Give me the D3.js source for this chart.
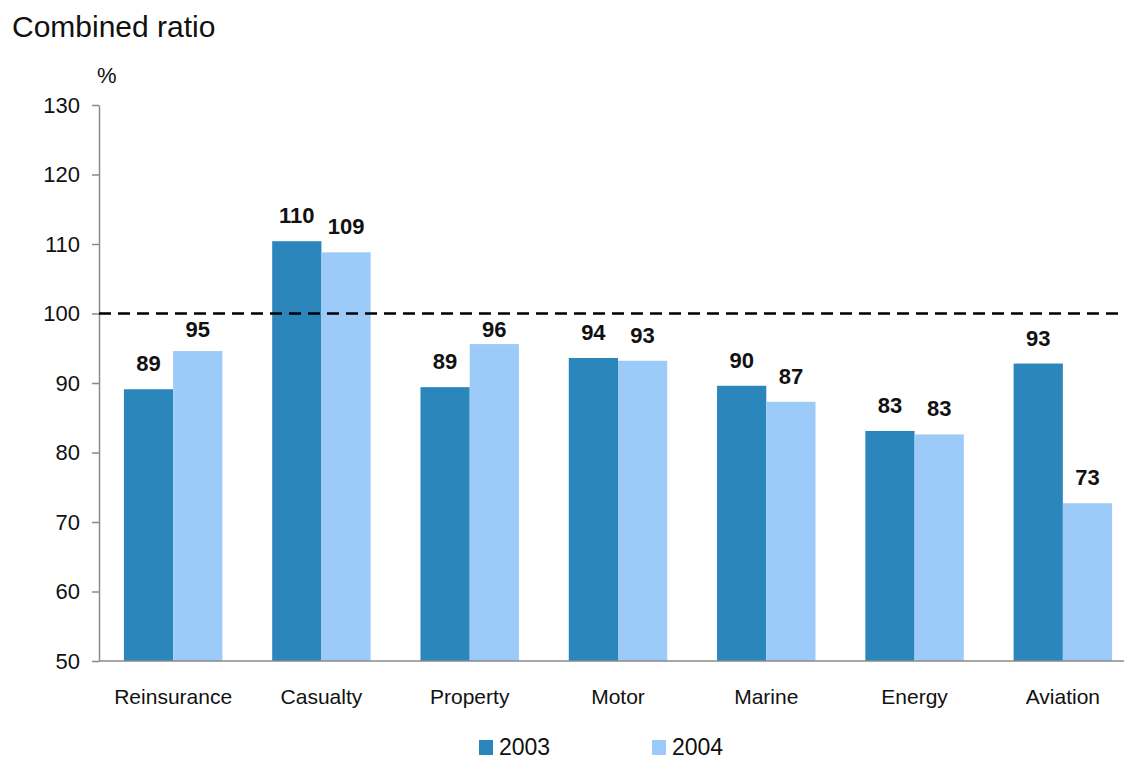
<!DOCTYPE html>
<html>
<head>
<meta charset="utf-8">
<script src="https://cdn.jsdelivr.net/npm/d3@7"></script>
<style>
  body { margin: 0; background: #fff; }
  svg { display: block; font-family: "Liberation Sans", Arial, sans-serif; }
</style>
</head>
<body>
<svg id="chart" width="1124" height="760"></svg>
<script>
// data
var categories = ["Reinsurance", "Casualty", "Property", "Motor", "Marine", "Energy", "Aviation"];
var years = ["2003", "2004"];
var values2003 = [89.1, 110.4, 89.4, 93.6, 89.6, 83.1, 92.8];
var values2004 = [94.6, 108.8, 95.6, 93.2, 87.3, 82.6, 72.7];
var yTicks = [50, 60, 70, 80, 90, 100, 110, 120, 130];
var reference = 100;

var colors = { "2003": "#2a86bb", "2004": "#9dcbf9" };

var svg = d3.select("#chart");

var x0 = d3.scaleBand()
	.domain(categories)
	.range([99, 1137])
	.paddingInner(0.336)
	.paddingOuter(0.168);

var x1 = d3.scaleBand()
	.domain(years)
	.range([0, x0.bandwidth()]);

var y = d3.scaleLinear()
	.domain([50, 130])
	.range([661, 105]);

// title
svg.append("text")
	.attr("x", 12)
	.attr("y", 37)
	.attr("font-size", 30)
	.attr("fill", "#111")
	.text("Combined ratio");

svg.append("text")
	.attr("x", 97)
	.attr("y", 83)
	.attr("font-size", 22)
	.attr("fill", "#111")
	.text("%");

// y axis
var yAxis = svg.append("g")
	.attr("transform", "translate(99,0)")
	.call(d3.axisLeft(y).tickValues(yTicks).tickSize(7).tickPadding(12).tickSizeOuter(0));
yAxis.selectAll("path, line").attr("stroke", "#8a8a8a").attr("stroke-width", 1.5);
yAxis.selectAll("text")
	.attr("font-size", 22)
	.attr("fill", "#111")
	.attr("font-family", "Liberation Sans, Arial, sans-serif");

// bars
var rows = categories.map(function (c, i) {
	return { category: c, values: [
		{ year: "2003", value: values2003[i] },
		{ year: "2004", value: values2004[i] }
	] };
});

var groups = svg.append("g").selectAll("g")
	.data(rows)
	.enter().append("g")
	.attr("transform", function (d) { return "translate(" + x0(d.category) + ",0)"; });

groups.selectAll("rect")
	.data(function (d) { return d.values; })
	.enter().append("rect")
	.attr("x", function (d) { return x1(d.year); })
	.attr("y", function (d) { return y(d.value); })
	.attr("width", x1.bandwidth())
	.attr("height", function (d) { return y(50) - y(d.value); })
	.attr("fill", function (d) { return colors[d.year]; });

// value labels, kept clear of the dashed line
groups.selectAll("text.value")
	.data(function (d) { return d.values; })
	.enter().append("text")
	.attr("class", "value")
	.attr("x", function (d) { return x1(d.year) + x1.bandwidth() / 2; })
	.attr("y", function (d) {
		var yy = y(d.value) - 18;
		if (d.value < reference) yy = Math.max(yy, y(reference) + 23);
		return yy;
	})
	.attr("text-anchor", "middle")
	.attr("font-size", 22)
	.attr("font-weight", "bold")
	.attr("fill", "#111")
	.text(function (d) { return d3.format(".0f")(d.value); });

// x axis
svg.append("line")
	.attr("x1", 99).attr("x2", 1124)
	.attr("y1", y(50)).attr("y2", y(50))
	.attr("stroke", "#8a8a8a").attr("stroke-width", 1.5);

svg.append("g").selectAll("text")
	.data(categories)
	.enter().append("text")
	.attr("x", function (d) { return x0(d) + x0.bandwidth() / 2; })
	.attr("y", 704)
	.attr("text-anchor", "middle")
	.attr("font-size", 21)
	.attr("fill", "#111")
	.text(function (d) { return d; });

// 100% reference line
svg.append("line")
	.attr("x1", 99).attr("x2", 1120)
	.attr("y1", y(reference)).attr("y2", y(reference))
	.attr("stroke", "#000")
	.attr("stroke-width", 2.5)
	.attr("stroke-dasharray", "12,7");

// legend
var legend = svg.append("g").selectAll("g")
	.data(years)
	.enter().append("g")
	.attr("transform", function (d, i) { return "translate(" + (479 + i * 173) + ",0)"; });

legend.append("rect")
	.attr("x", 0).attr("y", 740)
	.attr("width", 14).attr("height", 15)
	.attr("fill", function (d) { return colors[d]; });

legend.append("text")
	.attr("x", 20)
	.attr("y", 755)
	.attr("font-size", 23)
	.attr("fill", "#111")
	.text(function (d) { return d; });
</script>
</body>
</html>
